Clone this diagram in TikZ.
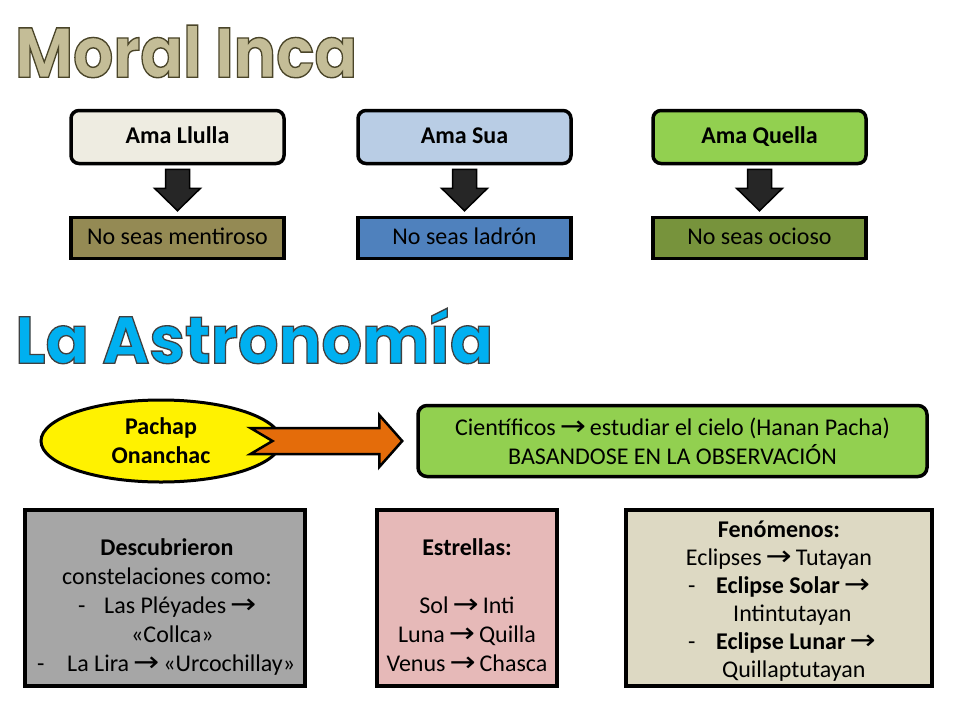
\documentclass[tikz,border=0pt]{standalone}
\usepackage{fontspec}
\usepackage{graphicx}
\setmainfont{Carlito}
\newfontfamily\titlefont{Poppins}
\newfontfamily\arrowfont{DejaVu Sans}
\usetikzlibrary{shapes.geometric,calc}
\definecolor{lonefill}{HTML}{EEECE1}
\definecolor{ltwofill}{HTML}{B9CDE5}
\definecolor{lthreefill}{HTML}{92D050}
\definecolor{bonefill}{HTML}{948A54}
\definecolor{btwofill}{HTML}{4F81BD}
\definecolor{bthreefill}{HTML}{77933C}
\definecolor{grayfill}{HTML}{A6A6A6}
\definecolor{pinkfill}{HTML}{E6B9B8}
\definecolor{tanfill}{HTML}{DDD9C3}
\definecolor{arrowgray}{HTML}{262626}
\definecolor{orangefill}{HTML}{E46C0A}
\definecolor{mfill}{HTML}{C4BD97}
\definecolor{afill}{HTML}{00B0F0}
\newcommand\bodyfont{\fontsize{24}{29}\selectfont}
\newcommand\ra{\,\raisebox{-0.5pt}{\scalebox{1.3}[1.15]{\arrowfont\mdseries →}}\,}
% outlined title text: #1 = stroke colour as "r g b", #2 = text
\newcommand\outlined[2]{\special{pdf:literal direct 2 Tr 0.2 w #1 RG}#2\special{pdf:literal direct 0 Tr}}
\tikzset{
  toprow/.style={draw, line width=3.5pt, rounded corners=8pt, minimum width=213pt, minimum height=53pt, inner sep=0pt, text height=16pt, text depth=4pt, font=\bodyfont\bfseries},
  botrow/.style={draw, line width=3.5pt, minimum width=213pt, minimum height=41pt, inner sep=0pt, text height=16pt, text depth=4pt, font=\bodyfont},
  bigbox/.style={draw, line width=4pt, minimum height=176pt, inner sep=0pt},
  txt/.style={inner sep=0pt, anchor=base, font=\bodyfont},
  txtl/.style={inner sep=0pt, anchor=base west, font=\bodyfont},
  darrow/.style={fill=arrowgray, draw=black, line width=1.5pt, line join=miter},
  oarrow/.style={fill=orangefill, draw=black, line width=2.5pt, line join=miter},
  titletext/.style={anchor=north west, inner sep=0pt},
}
\newcommand\blockdown[2]{%
  \draw[darrow] ($(#1.south)+(-12,4)$) -- ($(#1.south)+(12,4)$) -- ($(#1.south)+(12,23)$) -- ($(#1.south)+(23,23)$) -- ($(#2.north)+(0,-5)$) -- ($(#1.south)+(-23,23)$) -- ($(#1.south)+(-12,23)$) -- cycle;}
\begin{document}
\begin{tikzpicture}[x=1pt,y=-1pt]
\useasboundingbox (0,0) rectangle (960,720);
\fill[white] (0,0) rectangle (960,720);
% titles
\node[titletext, text=mfill] (moral) at (15,25) {\resizebox{342pt}{52pt}{\titlefont\bfseries\outlined{0.29 0.27 0.16}{Moral Inca}}};
\node[titletext, text=afill] (astro) at (15,308) {\resizebox{478pt}{55pt}{\titlefont\bfseries\outlined{0.25 0.25 0.25}{La Astronomía}}};
% moral boxes
\node[toprow, fill=lonefill] (a1) at (177.5,137) {Ama Llulla};
\node[toprow, fill=ltwofill] (a2) at (464.5,137) {Ama Sua};
\node[toprow, fill=lthreefill] (a3) at (759.5,137) {Ama Quella};
\node[botrow, fill=bonefill] (b1) at (177.5,238) {No seas mentiroso};
\node[botrow, fill=btwofill] (b2) at (464.5,238) {No seas ladrón};
\node[botrow, fill=bthreefill] (b3) at (759.5,238) {No seas ocioso};
\blockdown{a1}{b1}
\blockdown{a2}{b2}
\blockdown{a3}{b3}
% astronomy
\node[ellipse, draw, line width=3pt, fill=yellow, minimum width=240pt, minimum height=82pt, inner sep=0pt, align=center, font=\bodyfont\bfseries] (ell) at (161,441) {Pachap\\Onanchac};
\node[draw, line width=3.5pt, rounded corners=9pt, fill=lthreefill, minimum width=509pt, minimum height=71pt, inner sep=0pt, align=center, font=\bodyfont] (sci) at (672.5,441) {Científicos\ra estudiar el cielo (Hanan Pacha)\\BASANDOSE EN LA OBSERVACIÓN};
\draw[oarrow] ($(ell.east)+(-32,-13)$) -- ($(sci.west)+(-37,-13)$) -- ($(sci.west)+(-37,-26)$) -- ($(sci.west)+(-14,0)$) -- ($(sci.west)+(-37,26)$) -- ($(sci.west)+(-37,13)$) -- ($(ell.east)+(-32,13)$) -- ($(ell.east)+(-10,0)$) -- cycle;
% bottom boxes
\node[bigbox, fill=grayfill, minimum width=280pt] (g) at (165,598) {};
\node[bigbox, fill=pinkfill, minimum width=180pt] (p) at (467,598) {};
\node[bigbox, fill=tanfill, minimum width=306pt] (t) at (779,598) {};
% gray text
\node[txt] (g1) at (167,555) {\bfseries Descubrieron};
\node[txt] (g2) at (167,584) {constelaciones como:};
\node[txtl] (g3a) at (78,613) {-};
\node[txtl] (g3b) at (104,613) {Las Pléyades\ra};
\node[txtl] (g4) at (131,642) {«Collca»};
\node[txtl] (g5a) at (37,671) {-};
\node[txtl] (g5b) at (67,671) {La Lira\ra«Urcochillay»};
% pink text
\node[txt] (p1) at (467,555) {\bfseries Estrellas:};
\node[txt] (p2) at (467,613) {Sol\ra Inti};
\node[txt] (p3) at (467,642) {Luna\ra Quilla};
\node[txt] (p4) at (467,671) {Venus\ra Chasca};
% tan text
\node[txt] (t1) at (779,537) {\bfseries Fenómenos:};
\node[txt] (t2) at (779,565) {Eclipses\ra Tutayan};
\node[txtl] (t3a) at (688,593) {-};
\node[txtl] (t3b) at (716,593) {\bfseries Eclipse Solar\ra};
\node[txtl] (t4) at (733,621) {Intintutayan};
\node[txtl] (t5a) at (688,649) {-};
\node[txtl] (t5b) at (716,649) {\bfseries Eclipse Lunar\ra};
\node[txtl] (t6) at (722,677) {Quillaptutayan};
\end{tikzpicture}
\end{document}
